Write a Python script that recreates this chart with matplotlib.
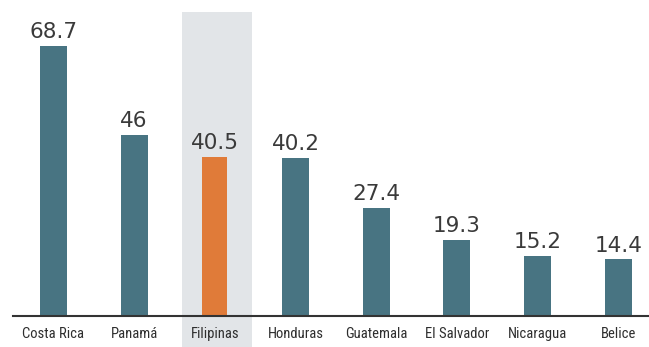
import matplotlib
matplotlib.use("Agg")
import matplotlib.pyplot as plt
from matplotlib import font_manager as fm

categories = ["Costa Rica", "Panamá", "Filipinas", "Honduras", "Guatemala", "El Salvador", "Nicaragua", "Belice"]
values = [68.7, 46, 40.5, 40.2, 27.4, 19.3, 15.2, 14.4]
value_labels = ["68.7", "46", "40.5", "40.2", "27.4", "19.3", "15.2", "14.4"]
highlight = "Filipinas"

avail = {f.name for f in fm.fontManager.ttflist}
cond = None
for c in ["Liberation Sans Narrow", "DejaVu Sans Condensed", "Roboto Condensed", "Open Sans Condensed"]:
    if c in avail:
        cond = c
        break
cat_family = [cond, "DejaVu Sans"] if cond else ["DejaVu Sans"]
val_family = ["DejaVu Sans"]

W, H = 649, 347
fig = plt.figure(figsize=(W / 100, H / 100), dpi=100)
ax = fig.add_axes([13 / W, (H - 316) / H, 1 - 13 / W, 316 / H])
ax.set_xlim(-0.5, 7.38)
ax.set_ylim(0, 80.4)

bar_col = "#487482"
hl_col = "#e07b39"
hi = categories.index(highlight)

# highlight band
ax.axvspan(hi - 0.41, hi + 0.46, ymin=-0.12, ymax=77.4 / 80.4, color="#e2e5e8", zorder=0, clip_on=False, lw=0)

x = list(range(len(categories)))
colors = [hl_col if c == highlight else bar_col for c in categories]
widths = [0.31 if c == highlight else 0.335 for c in categories]
ax.bar(x, values, width=widths, color=colors, zorder=2)

for xi, v, lab in zip(x, values, value_labels):
    ax.text(xi, v + 2.0, lab, ha="center", va="baseline", fontsize=15.5, color="#3a3a3a",
            family=val_family, zorder=3)

ax.set_xticks(x)
ax.set_xticklabels(categories, fontsize=10.5, color="#2e2e2e", family=cat_family)
ax.tick_params(axis="x", length=0, pad=8)
ax.set_yticks([])
for s in ["top", "right", "left"]:
    ax.spines[s].set_visible(False)
ax.spines["bottom"].set_color("#333333")
ax.spines["bottom"].set_linewidth(1.5)
ax.patch.set_alpha(0)

fig.savefig("out.png", dpi=100)
